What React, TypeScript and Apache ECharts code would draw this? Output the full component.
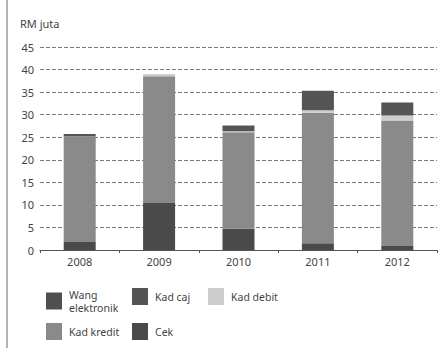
import React, { useEffect, useRef } from "react";
import * as echarts from "echarts";

const years = ["2008", "2009", "2010", "2011", "2012"];
const cek = [1.8, 10.4, 4.7, 1.5, 0.9];
const kadKredit = [23.4, 28.1, 21.4, 28.9, 27.8];
const kadDebit = [0.0, 0.5, 0.2, 0.6, 1.1];
const kadCaj = [0.5, 0.0, 1.3, 4.3, 2.9];
const wangElektronik = [0.0, 0.0, 0.0, 0.0, 0.0];

const FONT = "Noto Sans";
const TXT = "#444444";

export default function App() {
  const ref = useRef<HTMLDivElement>(null);
  useEffect(() => {
    const chart = echarts.init(ref.current!, null, { renderer: "svg" });
    const colors: Record<string, string> = {
      "Wang\nelektronik": "#4f4f4f",
      "Kad caj": "#555555",
      "Kad debit": "#cdcdcd",
      "Kad kredit": "#8a8a8a",
      "Cek": "#4a4a4a",
    };
    const mkSeries = (name: string, data: number[]) => ({
      name,
      type: "bar",
      stack: "s",
      data,
      barWidth: 32,
      itemStyle: { color: colors[name] },
    });
    const legendItem = (name: string, left: number, top: number) => ({
      data: [name],
      left,
      top,
      orient: "horizontal",
      itemWidth: 16,
      itemHeight: 17,
      itemGap: 0,
      padding: 0,
      icon: "rect",
      textStyle: {
        fontFamily: FONT,
        fontSize: 10.5,
        color: TXT,
        lineHeight: 13,
        padding: [0, 0, 0, 2],
      },
    });
    chart.setOption({
      animation: false,
      title: {
        text: "RM juta",
        left: 20,
        top: 18,
        padding: 0,
        textStyle: { fontFamily: FONT, fontSize: 11, fontWeight: "normal", color: TXT },
      },
      graphic: [
        {
          type: "line",
          shape: { x1: 7, y1: 0, x2: 7, y2: 348 },
          style: { stroke: "#9a9a9a", lineWidth: 1.5 },
        },
      ],
      legend: [
        legendItem("Wang\nelektronik", 46, 288),
        legendItem("Kad caj", 132, 288),
        legendItem("Kad debit", 208, 288),
        legendItem("Kad kredit", 46, 323),
        legendItem("Cek", 132, 323),
      ],
      grid: { left: 40, right: 11, top: 47, bottom: 98 },
      xAxis: {
        type: "category",
        data: years,
        axisLine: { lineStyle: { color: "#555", width: 1.2 } },
        axisTick: { show: true, length: 3, lineStyle: { color: "#555" } },
        axisLabel: { fontFamily: FONT, fontSize: 11, color: TXT, margin: 6 },
      },
      yAxis: {
        type: "value",
        min: 0,
        max: 45,
        interval: 5,
        axisLine: { show: false },
        axisTick: { show: false },
        axisLabel: { fontFamily: FONT, fontSize: 11, color: TXT, margin: 6 },
        splitLine: {
          lineStyle: { type: [4, 2], color: "#7a7a7a", width: 1 },
        },
      },
      series: [
        mkSeries("Cek", cek),
        mkSeries("Kad kredit", kadKredit),
        mkSeries("Kad debit", kadDebit),
        mkSeries("Kad caj", kadCaj),
        mkSeries("Wang\nelektronik", wangElektronik),
      ],
    });
    return () => chart.dispose();
  }, []);
  return (
    <div
      ref={ref}
      style={{ position: "fixed", left: 0, top: 0, width: 448, height: 348, background: "#fff" }}
    />
  );
}
